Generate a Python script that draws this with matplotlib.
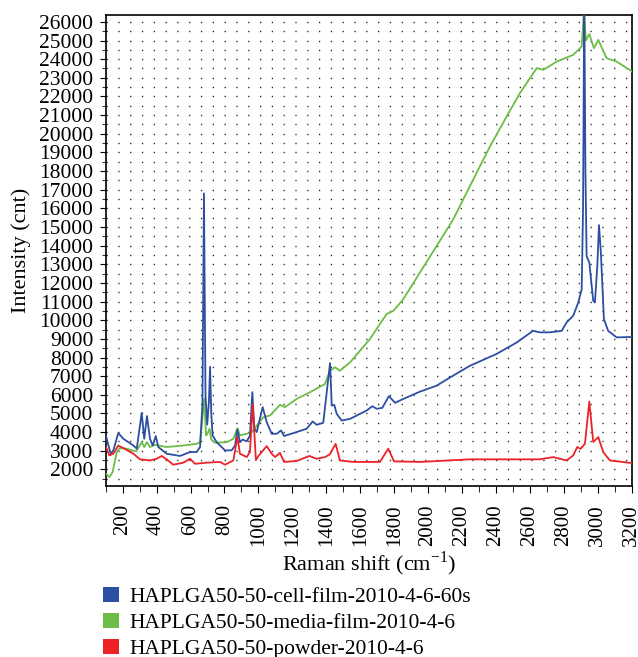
import numpy as np
import matplotlib
matplotlib.use('Agg')
import matplotlib.pyplot as plt
from matplotlib.patches import Patch
from matplotlib.ticker import MultipleLocator

plt.rcParams['font.family'] = ['Liberation Serif', 'DejaVu Serif']
plt.rcParams['mathtext.fontset'] = 'custom'
plt.rcParams['mathtext.rm'] = 'Liberation Serif'

# spectra (Raman shift, counts)
cell_x = [102, 129, 145, 174, 204, 263, 283, 312, 327, 343, 361, 377, 395, 410, 459, 538, 597,
          636, 656, 670, 679, 688, 698, 708, 715, 722, 730, 754, 803, 842, 862, 876, 891, 907,
          931, 950, 964, 976, 990, 1025, 1049, 1078, 1108, 1133, 1151, 1225, 1284, 1320, 1343,
          1382, 1422, 1432, 1447, 1461, 1491, 1540, 1599, 1638, 1671, 1697, 1730, 1769, 1805,
          1854, 1952, 2050, 2148, 2247, 2403, 2523, 2618, 2659, 2715, 2787, 2816, 2855, 2885,
          2905, 2913, 2920, 2927, 2934, 2950, 2973, 2983, 2997, 3007, 3018, 3036, 3061, 3111, 3200]
cell_y = [3790, 2840, 3020, 3950, 3640, 3280, 3110, 5030, 3640, 4860, 3640, 3280, 3790, 3200,
          2840, 2720, 2930, 2930, 3200, 5500, 16800, 6000, 4400, 5600, 7500, 5000, 3820, 3460,
          3020, 3020, 3280, 4140, 3460, 3600, 3500, 3820, 6140, 4180, 4000, 5340, 4530, 3910,
          3910, 4090, 3790, 4000, 4180, 4570, 4390, 4500, 7700, 5420, 5460, 4980, 4620, 4710,
          4980, 5160, 5390, 5250, 5300, 5930, 5570, 5780, 6170, 6490, 7030, 7560, 8190, 8810,
          9430, 9350, 9350, 9430, 9880, 10240, 10950, 11660, 16000, 27500, 18000, 13440, 13090,
          11040, 10950, 12910, 15100, 13630, 10060, 9430, 9080, 9100]

media_x = [102, 121, 141, 165, 184, 224, 279, 312, 327, 343, 361, 390, 459, 557, 636, 656, 681,
           691, 699, 712, 722, 744, 813, 852, 876, 891, 931, 961, 990, 1029, 1068, 1127, 1157,
           1225, 1304, 1392, 1422, 1451, 1480, 1540, 1657, 1755, 1795, 1854, 1952, 2050, 2148,
           2266, 2365, 2463, 2541, 2600, 2640, 2679, 2758, 2855, 2885, 2905, 2918, 2930, 2950,
           2977, 3003, 3052, 3111, 3200]
media_y = [1770, 1590, 1860, 2930, 3140, 3110, 2960, 3460, 3200, 3460, 3200, 3320, 3200, 3280,
           3370, 3460, 5780, 3820, 3900, 4180, 3600, 3430, 3460, 3640, 4210, 3820, 3910, 4000,
           4350, 4800, 4890, 5460, 5340, 5780, 6140, 6580, 7290, 7480, 7290, 7740, 8990, 10330,
           10500, 11130, 12560, 13980, 15410, 17550, 19330, 20930, 22180, 22980, 23520, 23430,
           23870, 24230, 24500, 24670, 26600, 25000, 25350, 24590, 25030, 24050, 23870, 23350]

powder_x = [102, 121, 145, 174, 204, 263, 302, 361, 400, 430, 459, 498, 557, 597, 626, 695, 774,
            803, 852, 876, 891, 931, 950, 966, 985, 1000, 1049, 1078, 1098, 1127, 1151, 1225,
            1300, 1343, 1392, 1420, 1455, 1480, 1559, 1716, 1765, 1799, 1952, 2247, 2659, 2737,
            2816, 2855, 2879, 2898, 2924, 2950, 2973, 3003, 3032, 3071, 3200]
powder_y = [3200, 2750, 2840, 3280, 3140, 2840, 2540, 2480, 2570, 2720, 2540, 2250, 2360, 2570,
            2300, 2360, 2400, 2250, 2480, 3730, 2840, 2660, 2930, 5510, 2500, 2720, 3250, 2840,
            2660, 2890, 2400, 2450, 2720, 2570, 2660, 2800, 3370, 2480, 2400, 2400, 3110, 2430,
            2400, 2540, 2540, 2660, 2480, 2750, 3200, 3100, 3370, 5640, 3470, 3730, 2930, 2480,
            2340]

labels = ['HAPLGA50-50-cell-film-2010-4-6-60s', 'HAPLGA50-50-media-film-2010-4-6',
          'HAPLGA50-50-powder-2010-4-6']
colors = ['#2d4fa3', '#6cbd45', '#ec2227']

fig = plt.figure(figsize=(6.38, 6.57), dpi=100)
ax = fig.add_axes([0.1657, 0.2603, 0.8245, 0.7169])

ax.plot(cell_x, cell_y, color=colors[0], lw=1.3, zorder=4)
ax.plot(media_x, media_y, color=colors[1], lw=1.3, zorder=3)
ax.plot(powder_x, powder_y, color=colors[2], lw=1.3, zorder=5)

ax.set_xlim(100, 3200)
ax.set_ylim(1110, 26370)
ax.xaxis.set_minor_locator(MultipleLocator(100))
ax.yaxis.set_minor_locator(MultipleLocator(500))
ax.set_xticks(np.arange(200, 3201, 200))
ax.set_yticks(np.arange(2000, 26001, 1000))
ax.tick_params(axis='x', which='major', length=5, labelsize=15, labelrotation=90, pad=8)
ax.tick_params(axis='x', which='minor', length=4)
ax.tick_params(axis='y', which='major', length=4, labelsize=15.5, pad=5)
ax.tick_params(axis='y', which='minor', length=3)
for s in ax.spines.values():
    s.set_linewidth(1.2)

ax.grid(True, which='both', axis='y', color='#222222', lw=1.0, linestyle=(0, (0.9, 7.6)))

ax.set_xlabel('Raman shift (cm$^{-1}$)', fontsize=16, labelpad=3)
ax.set_ylabel('Intensity (cnt)', fontsize=16, labelpad=6)

handles = [Patch(facecolor=c, edgecolor='none') for c in colors]
fig.legend(handles, labels, loc='upper left', bbox_to_anchor=(0.161, 0.107), frameon=False,
           fontsize=15.5, handlelength=0.74, handleheight=0.74, handletextpad=0.5,
           labelspacing=0.26, borderpad=0, borderaxespad=0)

fig.savefig('out.png', dpi=100)
